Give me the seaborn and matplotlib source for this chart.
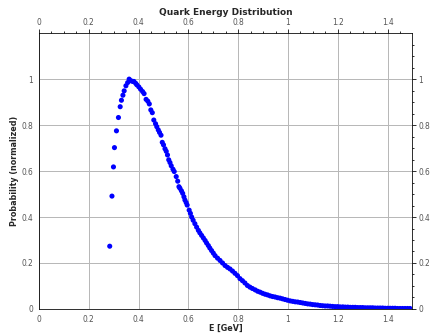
import matplotlib
matplotlib.use("Agg")
import matplotlib.pyplot as plt
from matplotlib.ticker import MultipleLocator, FormatStrFormatter
import seaborn as sns
import pandas as pd

# Quark energy samples (GeV) and normalized probability
energy = [
    0.284, 0.293, 0.299, 0.303, 0.311, 0.319, 0.326, 0.331, 0.337, 0.342,
    0.349, 0.356, 0.362, 0.369, 0.376, 0.381, 0.388, 0.393, 0.401, 0.408,
    0.416, 0.422, 0.430, 0.437, 0.443, 0.449, 0.455, 0.461, 0.468, 0.473,
    0.479, 0.484, 0.490, 0.495, 0.500, 0.506, 0.511, 0.516, 0.521, 0.526,
    0.531, 0.538, 0.543, 0.551, 0.557, 0.562, 0.566, 0.572, 0.577, 0.582,
    0.586, 0.591, 0.595, 0.603, 0.608, 0.613, 0.619, 0.626, 0.633, 0.640,
    0.646, 0.653, 0.660, 0.667, 0.673, 0.680, 0.686, 0.693, 0.700, 0.707,
    0.717, 0.727, 0.737, 0.747, 0.757, 0.767, 0.777, 0.787, 0.797, 0.807,
    0.817, 0.827, 0.837, 0.847, 0.857, 0.868, 0.878, 0.888, 0.898, 0.908,
    0.918, 0.928, 0.938, 0.948, 0.958, 0.968, 0.978, 0.988, 0.998, 1.009,
    1.019, 1.029, 1.039, 1.049, 1.059, 1.069, 1.079, 1.089, 1.099, 1.109,
    1.119, 1.129, 1.139, 1.149, 1.159, 1.169, 1.179, 1.189, 1.199, 1.209,
    1.220, 1.230, 1.240, 1.250, 1.260, 1.270, 1.280, 1.290, 1.300, 1.310,
    1.320, 1.330, 1.340, 1.350, 1.360, 1.370, 1.380, 1.390, 1.400, 1.410,
    1.420, 1.430, 1.440, 1.450, 1.460, 1.470, 1.480, 1.490,
]
probability = [
    0.273, 0.491, 0.618, 0.702, 0.775, 0.833, 0.880, 0.908, 0.930, 0.949,
    0.971, 0.985, 1.000, 0.993, 0.990, 0.990, 0.982, 0.975, 0.966, 0.956,
    0.946, 0.937, 0.912, 0.904, 0.892, 0.866, 0.854, 0.822, 0.806, 0.793,
    0.779, 0.768, 0.756, 0.725, 0.714, 0.697, 0.686, 0.670, 0.649, 0.637,
    0.623, 0.608, 0.598, 0.576, 0.556, 0.532, 0.525, 0.514, 0.503, 0.488,
    0.474, 0.463, 0.452, 0.430, 0.416, 0.400, 0.386, 0.371, 0.356, 0.342,
    0.331, 0.320, 0.309, 0.298, 0.287, 0.276, 0.265, 0.254, 0.243, 0.232,
    0.221, 0.211, 0.200, 0.189, 0.181, 0.174, 0.165, 0.155, 0.145, 0.132,
    0.123, 0.113, 0.102, 0.095, 0.089, 0.083, 0.077, 0.073, 0.068, 0.064,
    0.061, 0.057, 0.054, 0.052, 0.049, 0.047, 0.044, 0.041, 0.038, 0.035,
    0.033, 0.031, 0.030, 0.028, 0.026, 0.024, 0.022, 0.021, 0.019, 0.018,
    0.017, 0.015, 0.014, 0.013, 0.013, 0.012, 0.011, 0.010, 0.010, 0.009,
    0.009, 0.008, 0.008, 0.007, 0.007, 0.007, 0.006, 0.006, 0.006, 0.005,
    0.005, 0.005, 0.005, 0.004, 0.004, 0.004, 0.004, 0.003, 0.003, 0.003,
    0.003, 0.003, 0.002, 0.002, 0.002, 0.002, 0.002, 0.002,
]

df = pd.DataFrame({"E": energy, "P": probability})

sns.set_style("white")
plt.rcParams["font.family"] = ["DejaVu Sans"]

fig = plt.figure(figsize=(6.0, 334 / 72), dpi=72)
ax = fig.add_axes([0.0903, 0.075, 0.864, 0.825])

sns.scatterplot(data=df, x="E", y="P", ax=ax, color="#0000ff",
                edgecolor="none", s=26, zorder=3, legend=False)

ax.set_xlim(0, 1.499)
ax.set_ylim(0, 1.199)

ax.xaxis.set_major_locator(MultipleLocator(0.2))
ax.xaxis.set_minor_locator(MultipleLocator(0.05))
ax.yaxis.set_major_locator(MultipleLocator(0.2))
ax.yaxis.set_minor_locator(MultipleLocator(0.05))
fmt = FormatStrFormatter("%g")
ax.xaxis.set_major_formatter(fmt)
ax.yaxis.set_major_formatter(fmt)

ax.grid(True, which="major", color="#b8b8b8", linewidth=1.0, zorder=0)
ax.set_axisbelow(True)

ax.tick_params(which="both", direction="out", top=True, right=True,
               labeltop=True, labelright=True, colors="black",
               labelcolor="#555555", labelsize=7.5, width=0.8)
ax.tick_params(which="major", length=4, pad=2)
ax.tick_params(which="minor", length=2)

for s in ax.spines.values():
    s.set_visible(True)
    s.set_color("black")
    s.set_linewidth(0.8)

ax.set_xlabel("E [GeV]", fontsize=8, fontweight="bold", labelpad=0)
ax.set_ylabel("Probability (normalized)", fontsize=8, fontweight="bold",
              labelpad=2)
ax.set_title("Quark Energy Distribution", fontsize=9, fontweight="bold",
             pad=3)

fig.savefig("out.png", dpi=72)
